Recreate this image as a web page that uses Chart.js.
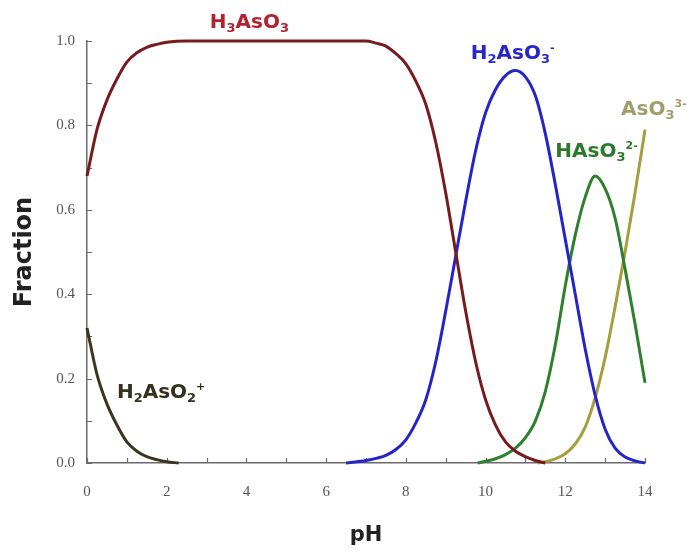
<!DOCTYPE html>
<html>
<head>
<meta charset="utf-8">
<script src="https://cdn.jsdelivr.net/npm/chart.js@4.4.1/dist/chart.umd.min.js"></script>
<style>
  body { margin: 0; background: #fff; }
  #wrap { width: 694px; height: 552px; }
</style>
</head>
<body>
<div id="wrap"><canvas id="chart-1" width="694" height="552"></canvas></div>
<script>
// values (pH vs fraction)
let h2aso2_ph   = [0, 0.25, 0.5, 0.75, 1, 1.25, 1.5, 1.75, 2, 2.3];
let h2aso2_frac = [0.32, 0.21, 0.14, 0.09, 0.05, 0.028, 0.015, 0.008, 0.003, 0];

let h3aso3_ph   = [0, 0.25, 0.5, 0.75, 1, 1.25, 1.5, 1.75, 2, 2.5, 7, 7.25, 7.5, 7.75, 8, 8.25, 8.5, 8.75,
                   9, 9.25, 9.5, 9.75, 10, 10.25, 10.5, 10.75, 11, 11.25, 11.5];
let h3aso3_frac = [0.68, 0.79, 0.86, 0.91, 0.95, 0.972, 0.985, 0.992, 0.997, 1, 1, 0.995, 0.988, 0.97, 0.946, 0.905, 0.85, 0.76,
                   0.64, 0.5, 0.36, 0.24, 0.15, 0.09, 0.05, 0.028, 0.015, 0.006, 0];

let h2aso3_ph   = [6.5, 7, 7.5, 7.75, 8, 8.25, 8.5, 8.75, 9, 9.25, 9.5, 9.75, 10, 10.25, 10.5, 10.75,
                   11, 11.25, 11.5, 11.75, 12, 12.25, 12.5, 12.75, 13, 13.25, 13.5, 13.75, 14];
let h2aso3_frac = [0, 0.006, 0.018, 0.032, 0.055, 0.095, 0.15, 0.24, 0.36, 0.49, 0.62, 0.74, 0.83, 0.885, 0.918, 0.93,
                   0.915, 0.87, 0.78, 0.66, 0.53, 0.4, 0.27, 0.16, 0.08, 0.035, 0.014, 0.005, 0];

let haso3_ph    = [9.8, 10, 10.25, 10.5, 10.75, 11, 11.25, 11.5, 11.75, 12, 12.25, 12.5, 12.75, 13, 13.25, 13.5, 13.75, 14];
let haso3_frac  = [0, 0.004, 0.01, 0.02, 0.035, 0.06, 0.1, 0.17, 0.28, 0.42, 0.54, 0.63, 0.68, 0.65, 0.58, 0.46, 0.33, 0.19];

let aso3_ph     = [11.3, 11.5, 11.75, 12, 12.25, 12.5, 12.75, 13, 13.25, 13.5, 13.75, 14];
let aso3_frac   = [0, 0.003, 0.01, 0.022, 0.045, 0.085, 0.155, 0.25, 0.37, 0.5, 0.64, 0.79];

let x_ticks = [0, 2, 4, 6, 8, 10, 12, 14];
let y_ticks = [0.0, 0.2, 0.4, 0.6, 0.8, 1.0];

function points(xs, ys) {
    return xs.map((x, i) => ({ x: x, y: ys[i] }));
}

function line(data, color) {
    return {
        data: data,
        borderColor: color,
        borderWidth: 3,
        pointRadius: 0,
        fill: false,
        cubicInterpolationMode: 'monotone',
        clip: false
    };
}

// species names drawn inside the plot, anchored in data units
let labels = [
    { x: 3.08, y: 1.031, color: '#b0232f', parts: [['H'], ['3', 'sub'], ['AsO'], ['3', 'sub']] },
    { x: 9.63, y: 0.957, color: '#2626cc', parts: [['H'], ['2', 'sub'], ['AsO'], ['3', 'sub'], ['-', 'sup']] },
    { x: 13.4, y: 0.825, color: '#a39d6c', parts: [['AsO'], ['3', 'sub'], ['3-', 'sup']] },
    { x: 11.75, y: 0.725, color: '#2b7a2b', parts: [['HAsO'], ['3', 'sub'], ['2-', 'sup']] },
    { x: 0.75, y: 0.154, color: '#34311f', parts: [['H'], ['2', 'sub'], ['AsO'], ['2', 'sub'], ['+', 'sup']] }
];

const speciesLabels = {
    id: 'speciesLabels',
    afterDatasetsDraw(chart) {
        let ctx = chart.ctx;
        let sx = chart.scales.x, sy = chart.scales.y;
        ctx.save();
        ctx.textBaseline = 'alphabetic';
        ctx.textAlign = 'left';
        labels.forEach(lb => {
            let px = sx.getPixelForValue(lb.x);
            let py = sy.getPixelForValue(lb.y);
            ctx.fillStyle = lb.color;
            lb.parts.forEach(p => {
                let kind = p[1] || '';
                let dy = 0;
                if (kind === 'sub') { ctx.font = 'bold 13px "DejaVu Sans"'; dy = 4; }
                else if (kind === 'sup') { ctx.font = 'bold 11px "DejaVu Sans"'; dy = -8; }
                else { ctx.font = 'bold 20px "DejaVu Sans"'; }
                ctx.fillText(p[0], px, py + dy);
                px += ctx.measureText(p[0]).width;
            });
        });
        ctx.restore();
    }
};

// small tick marks pointing into the plot
const innerTicks = {
    id: 'innerTicks',
    beforeDatasetsDraw(chart) {
        let ctx = chart.ctx;
        let sx = chart.scales.x, sy = chart.scales.y;
        let a = chart.chartArea;
        ctx.save();
        ctx.strokeStyle = '#6a6a6a';
        ctx.lineWidth = 1.2;
        ctx.beginPath();
        sx.ticks.forEach(t => {
            let p = Math.round(sx.getPixelForValue(t.value)) + 0.5;
            ctx.moveTo(p, a.bottom);
            ctx.lineTo(p, a.bottom - 5);
        });
        sy.ticks.forEach(t => {
            let p = Math.round(sy.getPixelForValue(t.value)) + 0.5;
            ctx.moveTo(a.left, p);
            ctx.lineTo(a.left + 5, p);
        });
        ctx.stroke();
        ctx.restore();
    }
};

let chart_1 = document.getElementById('chart-1');

new Chart(chart_1, {
    type: 'line',
    data: {
        datasets: [
            line(points(h2aso2_ph, h2aso2_frac), '#3b3620'),
            line(points(h3aso3_ph, h3aso3_frac), '#761c1e'),
            line(points(h2aso3_ph, h2aso3_frac), '#2424c8'),
            line(points(haso3_ph, haso3_frac), '#2e7f2e'),
            line(points(aso3_ph, aso3_frac), '#a59e3c')
        ]
    },
    options: {
        responsive: false,
        animation: false,
        layout: { padding: { left: 0, top: 41, right: 49, bottom: 0 } },
        plugins: {
            legend: { display: false },
            tooltip: { enabled: false }
        },
        scales: {
            x: {
                type: 'linear',
                min: 0,
                max: 14,
                afterFit: s => { s.height = 89; },
                afterBuildTicks: s => {
                    s.ticks = [];
                    for (let i = 0; i <= 14; i++) s.ticks.push({ value: i });
                },
                ticks: {
                    autoSkip: false,
                    maxRotation: 0,
                    padding: 20,
                    color: '#555',
                    font: { family: '"Liberation Serif"', size: 15 },
                    callback: v => x_ticks.includes(v) ? String(v) : ''
                },
                grid: { display: false, drawTicks: false },
                border: { display: true, color: '#6a6a6a', width: 1.5 },
                title: {
                    display: true,
                    text: 'pH',
                    color: '#222',
                    font: { family: '"DejaVu Sans"', size: 21, weight: 'bold' },
                    padding: { top: 0, bottom: 4 }
                }
            },
            y: {
                min: 0,
                max: 1,
                afterFit: s => { s.width = 87; },
                afterBuildTicks: s => {
                    s.ticks = [];
                    for (let i = 0; i <= 10; i++) s.ticks.push({ value: i / 10 });
                },
                ticks: {
                    autoSkip: false,
                    padding: 12,
                    color: '#555',
                    font: { family: '"Liberation Serif"', size: 15 },
                    callback: v => y_ticks.some(t => Math.abs(t - v) < 1e-6) ? v.toFixed(1) : ''
                },
                grid: { display: false, drawTicks: false },
                border: { display: true, color: '#6a6a6a', width: 1.5 },
                title: {
                    display: true,
                    text: 'Fraction',
                    color: '#222',
                    font: { family: '"DejaVu Sans"', size: 24, weight: 'bold' },
                    padding: { top: 10, bottom: 0 }
                }
            }
        }
    },
    plugins: [innerTicks, speciesLabels]
});
</script>
</body>
</html>
